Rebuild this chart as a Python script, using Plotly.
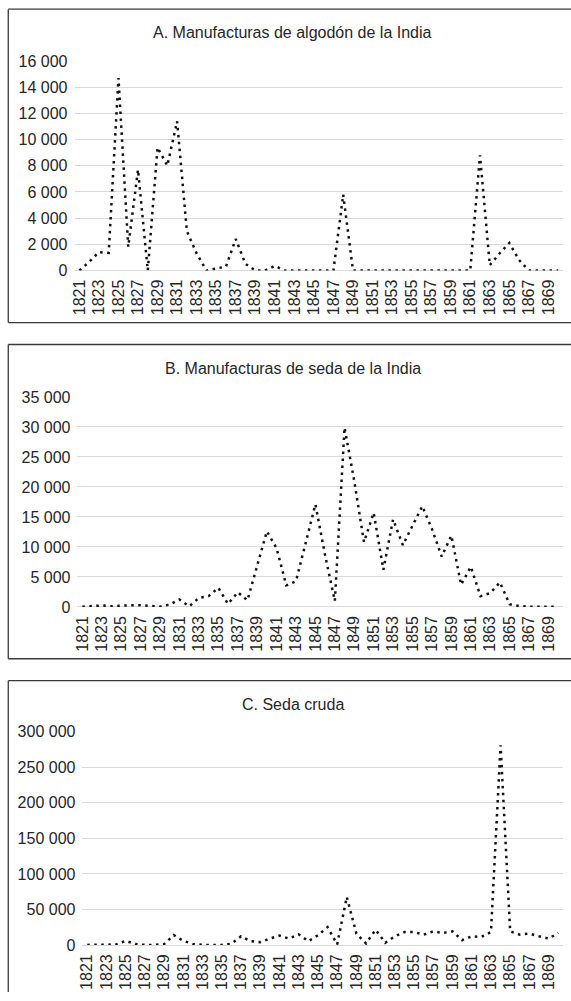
import plotly.graph_objects as go

years = list(range(1821, 1871))

algodon = [0, 650, 1400, 1350, 14700, 1800, 7700, 0, 9400, 8000,
           11400, 3000, 1300, 0, 150, 300, 2400, 500, 0, 0,
           350, 0, 0, 0, 0, 0, 0, 5800, 0, 0,
           0, 0, 0, 0, 0, 0, 0, 0, 0, 0,
           0, 8800, 400, 1300, 2100, 800, 0, 0, 0, 0]

seda_manuf = [50, 150, 250, 100, 250, 300, 300, 150, 50, 400,
              1250, 100, 1500, 1800, 3200, 500, 2450, 1100, 6800, 12600,
              9800, 3600, 4300, 10500, 17100, 8600, 1000, 29900, 21000, 10800,
              15700, 6200, 14600, 10300, 13500, 16800, 13000, 8400, 11900, 3700,
              6700, 1800, 2300, 4100, 450, 150, 50, 50, 50, 50]

seda_cruda = [300, 300, 300, 800, 6000, 1500, 300, 300, 1400, 14000,
              6000, 1500, 300, 300, 300, 2000, 12400, 5500, 4100, 9200,
              13300, 9200, 15000, 5500, 13800, 25300, 1000, 67600, 16100, 2300,
              21600, 3200, 12400, 18400, 18400, 14700, 19300, 17000, 19300, 6900,
              12400, 11500, 18400, 280700, 19300, 14700, 16100, 12400, 9200, 17000]

titles = ["A. Manufacturas de algodón de la India",
          "B. Manufacturas de seda de la India",
          "C. Seda cruda"]
y_ranges = [(0, 16000, 2000), (0, 35000, 5000), (0, 300000, 50000)]
tick_years = list(range(1821, 1870, 2))

W, H = 571, 1001
def px_x(v):
    return v / W
def px_y(v):
    return 1 - v / H

areas = [(71, 563, 54, 267), (74, 563, 395.7, 609.3), (79, 563, 736, 953.3)]
title_y = [25, 367, 708.5]
boxes = [(1.2, 320), (342.3, 662), (684.3, None)]

FONT = "Liberation Sans, Arial, Helvetica, sans-serif"
TXT = "#262626"
GRID = "#d9d9d9"
BOX = "#3a3a3a"

fig = go.Figure()
series = [algodon, seda_manuf, seda_cruda]
for i, vals in enumerate(series):
    sfx = "" if i == 0 else str(i + 1)
    fig.add_trace(go.Scatter(
        x=years, y=vals, mode="lines",
        line=dict(color="#111111", width=2.5, dash="2.5px,4.5px"),
        xaxis="x" + sfx, yaxis="y" + sfx, showlegend=False, hoverinfo="skip"))

layout = dict(
    width=W, height=H, margin=dict(l=0, r=0, t=0, b=0),
    paper_bgcolor="white", plot_bgcolor="white",
    separators=", ",
    font=dict(family=FONT, size=16, color=TXT),
    showlegend=False,
)
annotations = []
shapes = []
for i in range(3):
    sfx = "" if i == 0 else str(i + 1)
    x0, x1, yt, yb = areas[i]
    lo, hi, dt = y_ranges[i]
    layout["xaxis" + sfx] = dict(
        domain=[px_x(x0), px_x(x1)], range=[1820.5, 1870.5],
        anchor="y" + sfx, tickmode="array", tickvals=tick_years,
        ticktext=[str(t) for t in tick_years], tickangle=-90,
        showgrid=False, zeroline=False, showline=False, ticks="",
        ticklabelstandoff=5,
        tickfont=dict(family=FONT, size=16, color=TXT), fixedrange=True)
    layout["yaxis" + sfx] = dict(
        domain=[px_y(yb), px_y(yt)], range=[lo, hi], anchor="x" + sfx,
        tickmode="linear", tick0=0, dtick=dt, tickformat=",d",
        showgrid=True, gridcolor=GRID, gridwidth=1,
        zeroline=True, zerolinecolor=GRID, zerolinewidth=1,
        showline=False, ticks="", ticklabelstandoff=6,
        tickfont=dict(family=FONT, size=16, color=TXT), fixedrange=True)
    annotations.append(dict(
        text=titles[i], x=px_x(291), y=px_y(title_y[i]), xref="paper", yref="paper",
        xanchor="center", yanchor="middle", showarrow=False,
        font=dict(family=FONT, size=16, color=TXT)))
    bt, bb = boxes[i]
    ln = dict(color=BOX, width=1.3)
    bottom_px = bb if bb is not None else H
    shapes.append(dict(type="line", xref="paper", yref="paper",
                       x0=px_x(4.3), x1=px_x(4.3), y0=px_y(bottom_px), y1=px_y(bt), line=ln))
    shapes.append(dict(type="line", xref="paper", yref="paper",
                       x0=px_x(4.3), x1=1, y0=px_y(bt), y1=px_y(bt), line=ln))
    if bb is not None:
        shapes.append(dict(type="line", xref="paper", yref="paper",
                           x0=px_x(4.3), x1=1, y0=px_y(bb), y1=px_y(bb), line=ln))
layout["annotations"] = annotations
layout["shapes"] = shapes
fig.update_layout(**layout)

fig.write_html(
    "out.html",
    config={"displayModeBar": False},
    post_script=(
        "document.documentElement.style.margin='0';"
        "document.documentElement.style.overflow='hidden';"
        "document.body.style.margin='0';document.body.style.padding='0';"
        "document.body.style.overflow='hidden';"
        "var d=document.getElementById('{plot_id}');"
        "d.style.position='fixed';d.style.left='0px';d.style.top='0px';"
    ),
)
